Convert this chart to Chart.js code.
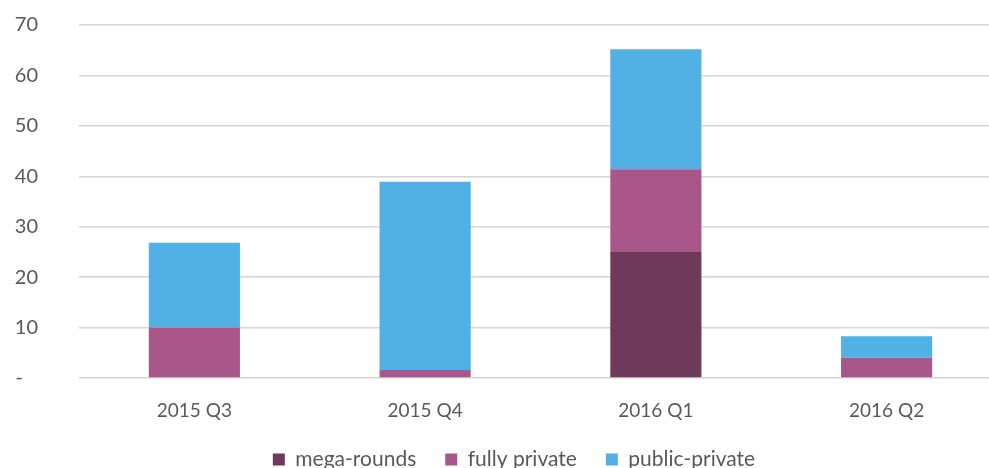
<!DOCTYPE html>
<html><head><meta charset="utf-8">
<script src="https://cdn.jsdelivr.net/npm/chart.js@4/dist/chart.umd.min.js"></script>
<style>html,body{margin:0;padding:0;overflow:hidden;background:#fff}#wrap{width:1002px;height:468px}</style>
</head><body><div id="wrap"><canvas id="c" width="1002" height="468"></canvas></div>
<script>
const categories = ["2015 Q3", "2015 Q4", "2016 Q1", "2016 Q2"];
const megaRounds = [0, 0, 25, 0];
const fullyPrivate = [10, 1.6, 16.4, 4];
const publicPrivate = [16.8, 37.3, 23.8, 4.3];
const yTicks = [0, 10, 20, 30, 40, 50, 60, 70];

const FONT = "Lato, 'Open Sans', sans-serif";
const legendShift = {
  id: 'legendShift',
  afterLayout(chart) { chart.legend.left += 13; chart.legend.right += 13; }
};
new Chart(document.getElementById('c'), {
  type: 'bar',
  data: {
    labels: categories,
    datasets: [
      {label: 'mega-rounds', data: megaRounds, backgroundColor: '#6D3A5A'},
      {label: 'fully private', data: fullyPrivate, backgroundColor: '#A9578A'},
      {label: 'public-private', data: publicPrivate, backgroundColor: '#51B1E4'}
    ]
  },
  plugins: [legendShift],
  options: {
    responsive: false, animation: false,
    layout: {padding: {top: 25, right: 0, left: 0, bottom: 0}},
    datasets: {bar: {categoryPercentage: 1, barPercentage: 0.395, borderWidth: 0}},
    scales: {
      x: {stacked: true, grid: {display: false, drawTicks: false}, border: {display: false},
          afterFit: s => { s.height = 42; },
          ticks: {color: '#595959', font: {family: FONT, size: 19}, padding: 21, maxRotation: 0}},
      y: {stacked: true, min: 0, max: 70,
          afterBuildTicks: s => { s.ticks = yTicks.map(v => ({value: v})); },
          afterFit: s => { s.width = 79; s.paddingTop = 0; s.paddingBottom = 0; },
          grid: {color: '#d6d6d6', lineWidth: 1.5, drawTicks: false}, border: {display: false},
          ticks: {color: '#595959', font: {family: FONT, size: 20}, padding: 41,
                  callback: v => v === 0 ? '-\u2002 ' : v}}
    },
    plugins: {
      legend: {position: 'bottom', align: 'center', maxHeight: 48,
        labels: {boxWidth: 12, boxHeight: 12, padding: 29, color: '#595959', font: {family: FONT, size: 21}}},
      tooltip: {enabled: false}
    }
  }
});
</script></body></html>
